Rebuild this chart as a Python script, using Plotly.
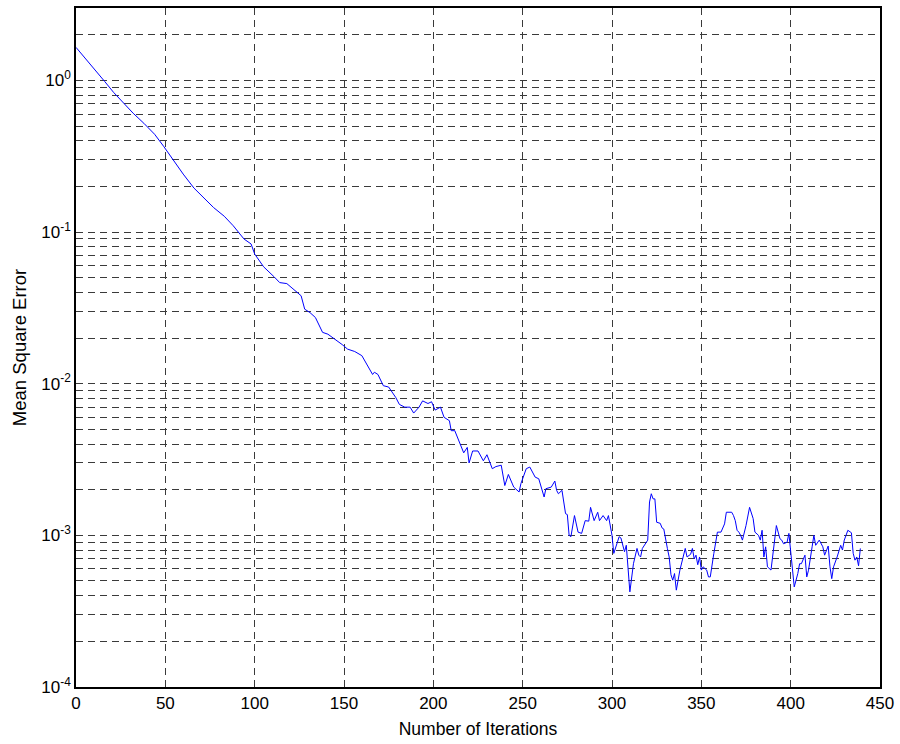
import plotly.graph_objects as go

iterations = [0, 5, 10, 16, 21, 27, 32, 38, 44, 49, 55, 60, 66, 72, 77, 83, 88, 94, 98, 100,
              105, 111, 114, 118, 123, 126, 128, 131, 134, 138, 141, 145, 149, 152, 156, 160,
              164, 166, 167, 169, 172, 175, 179, 181, 184, 187, 189, 192, 194, 197, 199, 201,
              204, 206, 209, 210, 212, 215, 217, 219, 220, 222, 225, 228, 230, 233, 235, 238,
              240, 242, 245, 248, 249, 252, 254, 257, 259, 262, 263, 266, 268, 269, 270, 272,
              274, 275, 276, 277, 279, 281, 283, 285, 287, 288, 290, 292, 293, 295, 297, 298,
              299, 300, 301, 302, 304, 305, 307, 308, 309, 310, 312, 314, 315, 316, 317, 320,
              321, 322, 323, 324, 325, 327, 328, 329, 331, 332, 333, 334, 335, 336, 338, 340,
              341, 342, 344, 345, 346, 347, 348, 349, 350, 351, 353, 354, 355, 357, 359, 361,
              363, 364, 367, 368, 369, 370, 371, 372, 373, 375, 377, 379, 380, 382, 383, 384,
              385, 386, 387, 389, 390, 391, 392, 394, 395, 396, 398, 399, 400, 401, 402, 404,
              405, 406, 408, 409, 410, 412, 413, 414, 416, 418, 419, 421, 422, 423, 424, 426,
              428, 429, 430, 431, 432, 434, 435, 436, 437, 438, 439]

mse = [1.65, 1.41, 1.2, 0.985, 0.834, 0.695, 0.607, 0.521, 0.441, 0.368, 0.289, 0.241, 0.195,
       0.165, 0.145, 0.127, 0.11, 0.09, 0.0834, 0.0716,
       0.059, 0.0505, 0.0464, 0.0457, 0.041, 0.038, 0.031, 0.0294, 0.0273, 0.0218, 0.0212,
       0.0197, 0.0181, 0.0169, 0.0163, 0.0153,
       0.0128, 0.0115, 0.0119, 0.0115, 0.0097, 0.0095, 0.0081, 0.0073, 0.0070, 0.0070, 0.0064,
       0.0070, 0.0077, 0.0074, 0.0076, 0.0067,
       0.0070, 0.0060, 0.0057, 0.0049, 0.0049, 0.0040, 0.0035, 0.0038, 0.0030, 0.0036, 0.0036,
       0.0031, 0.0034, 0.00275, 0.00284, 0.0029,
       0.00213, 0.00252, 0.00208, 0.00193, 0.00219, 0.00275, 0.00282, 0.00242, 0.00236,
       0.00179, 0.00203, 0.00208, 0.00228, 0.00198, 0.00188, 0.00198,
       0.00139, 0.00137, 0.0010, 0.00098, 0.00135, 0.00105, 0.00103, 0.00125, 0.00124,
       0.00153, 0.00125, 0.00142, 0.00125, 0.00135, 0.00125, 0.00135,
       0.00119, 0.0010, 0.00076, 0.00082, 0.00098, 0.00096, 0.00078, 0.00086, 0.00062,
       0.000424, 0.00065, 0.00082, 0.00074, 0.00072, 0.00082, 0.00093,
       0.00166, 0.00188, 0.00174, 0.00174, 0.00122, 0.0012, 0.00112, 0.0011, 0.00082,
       0.00072, 0.00055, 0.000506, 0.00056, 0.000435, 0.000589, 0.00076,
       0.00082, 0.00072, 0.00075, 0.00082, 0.0007, 0.00074, 0.00064, 0.00072, 0.00059,
       0.00062, 0.00059, 0.000532, 0.000532, 0.00076, 0.00105, 0.00105,
       0.00119, 0.00142, 0.00142, 0.00135, 0.00125, 0.00108, 0.00105, 0.0010, 0.00093,
       0.00116, 0.00153, 0.00129, 0.00105, 0.0010, 0.00093, 0.00108,
       0.00072, 0.00084, 0.00062, 0.00059, 0.00076, 0.00098, 0.00116, 0.00095, 0.00093,
       0.00088, 0.0009, 0.00103, 0.0008, 0.00062, 0.000457, 0.00056,
       0.00065, 0.00065, 0.00074, 0.000532, 0.000589, 0.00084, 0.0010, 0.00086, 0.00093,
       0.00084, 0.00074, 0.00085, 0.00062, 0.000518, 0.00062, 0.00072,
       0.00086, 0.0008, 0.00093, 0.0010, 0.00108, 0.00104, 0.00076, 0.000686, 0.00072,
       0.00063, 0.00082]

x_ticks = [0, 50, 100, 150, 200, 250, 300, 350, 400, 450]
y_ticks = [1e-4, 1e-3, 1e-2, 1e-1, 1]
y_tick_labels = ["10<sup>-4</sup>", "10<sup>-3</sup>", "10<sup>-2</sup>",
                 "10<sup>-1</sup>", "10<sup>0</sup>"]
y_minor = [m * 10 ** e for e in range(-4, 1) for m in range(2, 10)]
y_minor = [v for v in y_minor if v < 2.9]

GRID = "#3a3a3a"
DASH = "7px,5px"
FONT = "Liberation Sans, Arial, Helvetica, sans-serif"

fig = go.Figure()
fig.add_trace(go.Scatter(x=iterations, y=mse, mode="lines",
                         line=dict(color="#0000ff", width=1), showlegend=False))

fig.update_layout(
    width=900, height=744,
    margin=dict(l=76, r=17, t=6, b=57),
    paper_bgcolor="white", plot_bgcolor="white",
    font=dict(family=FONT, size=17, color="black"),
)
fig.update_xaxes(
    range=[0, 450], tickvals=x_ticks, showgrid=True, gridcolor=GRID, griddash=DASH,
    gridwidth=1, zeroline=False, showline=True, linecolor="black", linewidth=1.6,
    mirror=True, ticks="", tickfont=dict(size=17),
    title=dict(text="Number of Iterations", font=dict(size=17.5), standoff=11),
)
fig.update_yaxes(
    type="log", range=[-4, 0.4771], tickmode="array", tickvals=y_ticks,
    ticktext=y_tick_labels, showgrid=True, gridcolor=GRID, griddash=DASH, gridwidth=1,
    zeroline=False, showline=True, linecolor="black", linewidth=1.6, mirror=True,
    ticks="", tickfont=dict(size=17),
    minor=dict(tickmode="array", tickvals=y_minor, showgrid=True, gridcolor=GRID,
               griddash=DASH, gridwidth=1, ticks=""),
    title=dict(text="Mean Square Error", font=dict(size=18.5), standoff=10),
)

fig.write_html("out.html")
